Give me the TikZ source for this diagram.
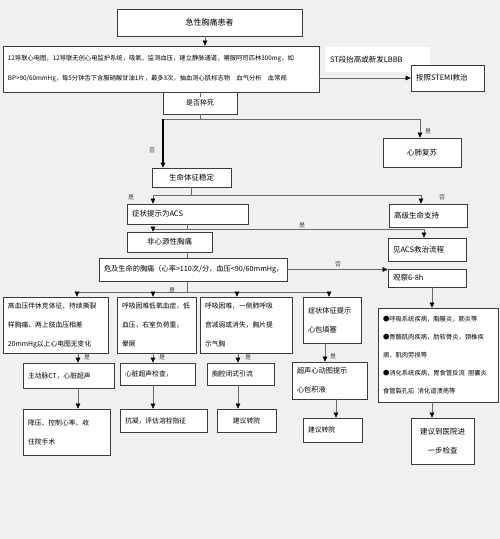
\documentclass[tikz,border=0pt]{standalone}
\usepackage{fontspec}
\setmainfont{Noto Sans CJK SC}
\usetikzlibrary{arrows.meta}
\definecolor{bg}{RGB}{240,240,240}
\definecolor{edge}{RGB}{60,60,60}
\definecolor{wire}{RGB}{105,105,105}
\begin{document}
\begin{tikzpicture}[x=1pt,y=-1pt,
  box/.style={draw=edge, fill=white, line width=0.7pt, inner xsep=5pt, inner ysep=0pt,
    align=left, anchor=center, font=\fontsize{7.5}{12}\selectfont},
  wd/.code={\pgfmathsetmacro\mytw{#1-10}\edef\mytmp{\noexpand\tikzset{minimum width=#1pt,text width=\mytw pt}}\mytmp},
  small/.style={font=\fontsize{6.8}{19}\selectfont},
  line/.style={draw=wire, line width=0.6pt},
  arr/.style={draw=wire, line width=0.6pt, -{Triangle[length=5pt,width=4.5pt,color=black]}},
  thick arr/.style={draw=black, line width=1.2pt, -{Triangle[length=5pt,width=4.5pt]}},
  lbl/.style={font=\fontsize{6}{7}\selectfont, text=black!75, inner sep=0pt}
]
\path[fill=bg] (0,0) rectangle (500,539);

% nodes
\node[box, wd=185, minimum height=27pt, align=center, font=\fontsize{8}{10}\selectfont] (top) at (209.5,22.5) {急性胸痛患者};
\node[box, wd=316, minimum height=46pt, font=\fontsize{6.3}{20}\selectfont] (info) at (161,69)
  {12导联心电图，12导联无创心电监护系统，吸氧，监测血压，建立静脉通道，嚼服阿司匹林300mg，如\\BP>90/60mmHg，每5分钟舌下含服硝酸甘油1片，最多3次，抽血测心肌标志物\quad 血气分析\quad 血常规};
\node[fill=white, inner xsep=5pt, inner ysep=0pt, wd=105, minimum height=25pt, align=left, font=\fontsize{7.5}{10}\selectfont] (stlabel) at (377.5,59.5) {ST段抬高或新发LBBB};
\node[box, wd=73, minimum height=26pt] (stemi) at (447.5,78) {按照STEMI救治};
\node[box, wd=74, minimum height=22pt, align=center, font=\fontsize{7}{9}\selectfont] (sudden) at (200,103) {是否猝死};
\node[box, wd=78, minimum height=29pt, align=center] (cpr) at (422,152.5) {心肺复苏};
\node[box, wd=79, minimum height=19pt, align=center] (stable) at (191.5,177.5) {生命体征稳定};
\node[box, wd=121, minimum height=20pt] (acs) at (187.5,214) {症状提示为ACS};
\node[box, wd=78, minimum height=23pt] (als) at (428,215.5) {高级生命支持};
\node[box, wd=85, minimum height=20pt, align=center] (noncard) at (169.5,242) {非心源性胸痛};
\node[box, wd=78, minimum height=23pt] (acsflow) at (427,249.5) {见ACS救治流程};
\node[box, wd=188, minimum height=23pt, font=\fontsize{7.2}{9}\selectfont] (danger) at (193,269.5) {危及生命的胸痛（心率>110次/分，血压<90/60mmHg，};
\node[box, wd=78, minimum height=18pt] (observe) at (427,278) {观察6-8h};

\node[box, small, wd=105, minimum height=56pt] (bA) at (55.5,325) {高血压伴休克体征、持续撕裂\\样胸痛、两上肢血压相差\\20mmHg以上心电图无变化};
\node[box, small, wd=79, minimum height=56pt] (bB) at (156.5,325) {呼吸困难低氧血症，低\\血压，右室负荷重，\\晕厥};
\node[box, small, wd=92, minimum height=56pt] (bC) at (246,325) {呼吸困难，一侧肺呼吸\\音减弱或消失，胸片提\\示气胸};
\node[box, small, wd=58, minimum height=46pt, font=\fontsize{7.2}{19}\selectfont] (bD) at (332,320) {症状体征提示\\心包填塞};

\node[box, small, wd=91, minimum height=25pt] (A2) at (68.5,375.5) {主动脉CT，心脏超声};
\node[box, small, wd=75, minimum height=22pt] (B2) at (157.5,374) {心脏超声检查，};
\node[box, small, wd=67, minimum height=22pt] (C2) at (240.5,374) {胸腔闭式引流};
\node[box, small, wd=75, minimum height=37pt, font=\fontsize{7.2}{19}\selectfont] (D2) at (329.5,380.5) {超声心动图提示\\心包积液};

\node[box, small, wd=87, minimum height=46pt] (A3) at (66.5,432) {降压、控制心率、收\\住院手术};
\node[box, small, wd=87, minimum height=23pt] (B3) at (163.5,420.5) {抗凝，评估溶栓指征};
\node[box, small, wd=59, minimum height=23pt, align=center] (C3) at (246.5,420.5) {建议转院};
\node[box, small, wd=59, minimum height=24pt] (D3) at (332.5,430) {建议转院};

\node[box, wd=120, minimum height=94pt, inner xsep=4pt, font=\fontsize{6.3}{18}\selectfont] (big) at (438,355)
  {●呼吸系统疾病，胸膜炎，肺炎等\\●骨骼肌肉疾病，肋软骨炎，颈椎疾\\病，肌肉劳损等\\●消化系统疾病，胃食管反流\enspace 胆囊炎\\食管裂孔疝\enspace 消化道溃疡等};
\node[box, wd=63, minimum height=46pt, align=center, font=\fontsize{7.5}{19}\selectfont] (final) at (442.5,441) {建议到医院进\\一步检查};

% connectors
\coordinate (c0) at (205,0);
\draw[arr] (c0 |- top.south) -- (c0 |- info.north);
\draw[arr] (info.east |- stemi.west) -- (stemi.west);
\draw[line] (sudden.north) -- ++(0,5);
\coordinate (s0) at (200,119);
\coordinate (sL) at (163,119);
\coordinate (sR) at (420,119);
\draw[line] (sudden.south) -- (s0);
\draw[line] (sL) -- (sR);
\draw[thick arr] (sL) -- (sL |- stable.north);
\draw[arr] (sR) -- (sR |- cpr.north);

\coordinate (tL) at (153,195);
\coordinate (tR) at (421,195);
\draw[line] (stable.south) -- (stable.south |- tL);
\draw[line] (tL) -- (tR);
\draw[arr] (tL) -- (tL |- acs.north);
\draw[arr] (tR) -- (tR |- als.north);

\coordinate (uL) at (153,229);
\coordinate (uR) at (424,229);
\draw[line] (acs.south) -- (acs.south |- uL);
\draw[line] (uL) -- (uR);
\draw[arr] (uL) -- (uL |- noncard.north);
\draw[arr] (uR) -- (uR |- acsflow.north);
\draw[line] (acs.south |- noncard.south) -- (acs.south |- danger.north);
\draw[arr] (danger.east) -- (observe.west |- danger.east);
\coordinate (cF) at (432,0);
\draw[arr] (cF |- observe.south) -- (cF |- big.north);

\coordinate (vL) at (77,292);
\coordinate (vB) at (153,292);
\coordinate (vC) at (237,292);
\coordinate (vR) at (329,292);
\draw[line] (acs.south |- danger.south) -- (acs.south |- vL);
\draw[line] (vL) -- (vR);
\draw[arr] (vL) -- (vL |- bA.north);
\draw[arr] (vB) -- (vB |- bB.north);
\draw[arr] (vC) -- (vC |- bC.north);
\draw[arr] (vR) -- (vR |- bD.north);

\coordinate (cA) at (78,0);
\coordinate (cB) at (153,0);
\coordinate (cC) at (238,0);
\coordinate (cD) at (325,0);
\coordinate (cD2) at (336,0);
\draw[arr] (cA |- bA.south) -- (cA |- A2.north);
\draw[arr] (cB |- bB.south) -- (cB |- B2.north);
\draw[arr] (cC |- bC.south) -- (cC |- C2.north);
\draw[arr] (cD |- bD.south) -- (cD |- D2.north);
\draw[arr] (cA |- A2.south) -- (cA |- A3.north);
\draw[arr] (cB |- B2.south) -- (cB |- B3.north);
\draw[arr] (cC |- C2.south) -- (cC |- C3.north);
\draw[arr] (cD2 |- D2.south) -- (cD2 |- D3.north);
\draw[arr] (cF |- big.south) -- (cF |- final.north);

% labels
\node[lbl] (l1) at (152,150) {否};
\node[lbl] (l2) at (428,131) {是};
\node[lbl] (l3) at (131,197) {是};
\node[lbl] (l4) at (442,197) {否};
\node[lbl] (l5) at (302,225) {是};
\node[lbl] (l6) at (338,264) {否};
\node[lbl] (l7) at (172,290) {是};
\node[lbl] (l8) at (87,357) {是};
\node[lbl] (l9) at (162,357) {是};
\node[lbl] (l10) at (248,357) {是};
\node[lbl] (l11) at (333,356) {是};
\end{tikzpicture}
\end{document}
